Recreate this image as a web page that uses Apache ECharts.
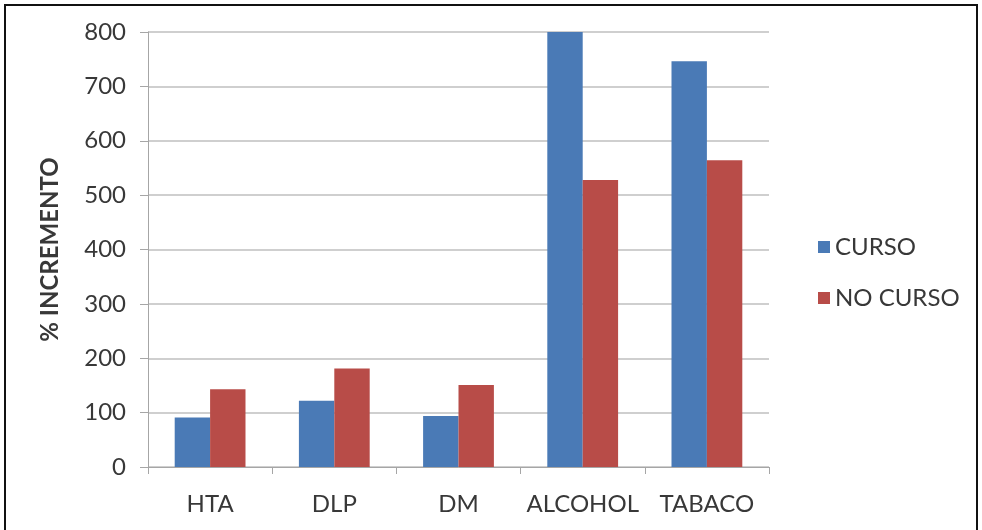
<!DOCTYPE html>
<html>
<head>
<meta charset="utf-8">
<script src="https://cdn.jsdelivr.net/npm/echarts@6/dist/echarts.min.js"></script>
<style>
  html, body { margin: 0; padding: 0; background: #fff; }
  #frame { position: absolute; left: 4px; top: 4px; width: 974px; height: 530px; border: 2px solid #111; border-bottom: none; box-sizing: border-box; }
  #chart { width: 982px; height: 530px; position: absolute; left: 0; top: 0; }
</style>
</head>
<body>
<div id="chart"></div>
<div id="frame"></div>
<script>
const categories = ['HTA', 'DLP', 'DM', 'ALCOHOL', 'TABACO'];
const cursoValues = [91, 122, 94, 800, 746];
const noCursoValues = [143, 181, 151, 528, 564];
const yTicks = [0, 100, 200, 300, 400, 500, 600, 700, 800];

const font = 'Lato, "Open Sans", sans-serif';
const textColor = '#383838';
const chart = echarts.init(document.getElementById('chart'));
chart.setOption({
  animation: false,
  textStyle: { fontFamily: font },
  grid: { left: 148, right: 213, top: 32, bottom: 63, containLabel: false },
  legend: {
    orient: 'vertical',
    left: 813,
    top: 230,
    itemWidth: 12,
    itemHeight: 12,
    itemGap: 27,
    icon: 'rect',
    textStyle: { fontSize: 24, lineHeight: 24, color: textColor, fontFamily: font, padding: [0, 0, 0, 0] },
    data: ['CURSO', 'NO CURSO']
  },
  xAxis: {
    type: 'category',
    data: categories,
    axisLine: { lineStyle: { color: '#a6a6a6', width: 1 } },
    axisTick: { show: true, length: 7, alignWithLabel: false, lineStyle: { color: '#a6a6a6' } },
    axisLabel: { fontSize: 24, color: textColor, margin: 25, fontFamily: font, interval: 0, hideOverlap: false }
  },
  yAxis: {
    type: 'value',
    min: 0,
    max: yTicks[yTicks.length - 1],
    interval: yTicks[1] - yTicks[0],
    name: '% INCREMENTO',
    nameLocation: 'middle',
    nameGap: 86,
    nameRotate: 90,
    nameTextStyle: { fontSize: 24, fontWeight: 'bold', color: textColor, fontFamily: font },
    axisLine: { show: true, lineStyle: { color: '#a6a6a6' } },
    axisTick: { show: true, length: 8, lineStyle: { color: '#a6a6a6' } },
    axisLabel: { fontSize: 24, color: textColor, margin: 22, fontFamily: font },
    splitLine: { lineStyle: { color: '#bfbfbf', width: 1.5 } }
  },
  series: [
    {
      name: 'CURSO',
      type: 'bar',
      data: cursoValues,
      barGap: '0%',
      barCategoryGap: '43%',
      itemStyle: { color: '#4a7ab6' }
    },
    {
      name: 'NO CURSO',
      type: 'bar',
      data: noCursoValues,
      barGap: '0%',
      barCategoryGap: '43%',
      itemStyle: { color: '#b84c48' }
    }
  ]
});
</script>
</body>
</html>
